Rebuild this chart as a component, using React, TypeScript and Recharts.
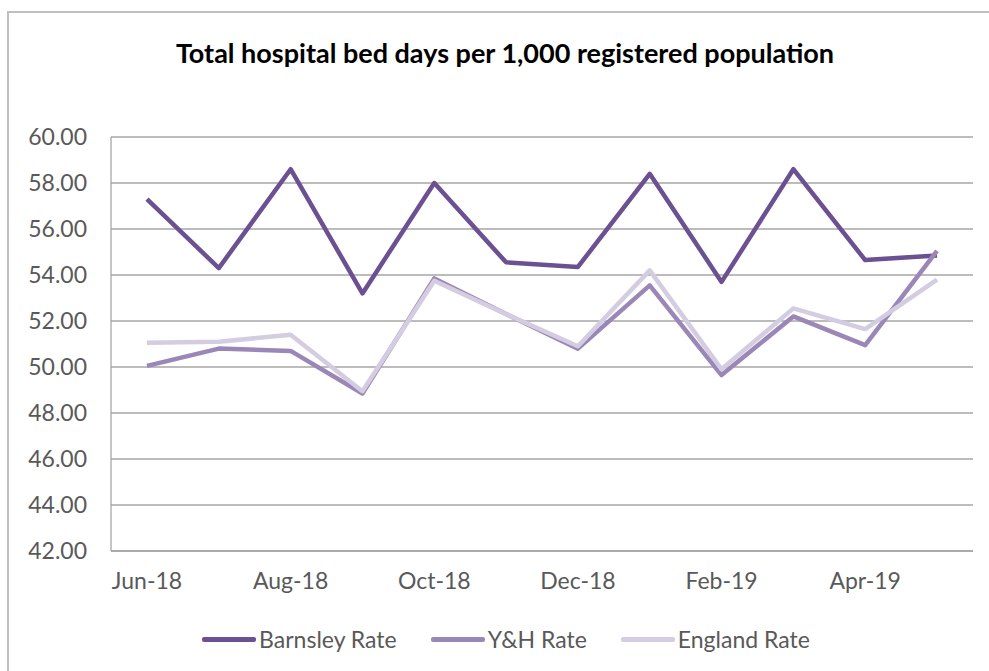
import { CartesianGrid, Line, LineChart, XAxis, YAxis } from "recharts";

const months = ["Jun-18", "Jul-18", "Aug-18", "Sep-18", "Oct-18", "Nov-18", "Dec-18", "Jan-19", "Feb-19", "Mar-19", "Apr-19", "May-19"];
const barnsley = [57.3, 54.3, 58.6, 53.2, 58.0, 54.55, 54.35, 58.4, 53.7, 58.6, 54.65, 54.85];
const yh = [50.05, 50.8, 50.7, 48.85, 53.85, 52.3, 50.8, 53.55, 49.65, 52.2, 50.95, 55.05];
const england = [51.05, 51.1, 51.4, 48.95, 53.75, 52.3, 50.9, 54.2, 49.9, 52.55, 51.65, 53.8];
const yTicks = [42, 44, 46, 48, 50, 52, 54, 56, 58, 60];

const series = [
  { key: "barnsley", name: "Barnsley Rate", color: "#6b5192" },
  { key: "yh", name: "Y&H Rate", color: "#9a87b7" },
  { key: "england", name: "England Rate", color: "#d4cce0" },
];

const data = months.map((month, i) => ({ month, barnsley: barnsley[i], yh: yh[i], england: england[i] }));

const font = "Lato, 'Open Sans', sans-serif";
const grey = "#595959";

export default function App() {
  return (
    <div style={{ position: "fixed", left: 0, top: 0, width: 989, height: 671, overflow: "hidden", background: "#fff", fontFamily: font }}>
      <div style={{ position: "absolute", left: 7, top: 11, right: 0, bottom: 0, borderTop: "2px solid #bfbfbf", borderLeft: "2px solid #bfbfbf" }} />
      <div style={{ position: "absolute", left: 0, top: 39, width: 1010, textAlign: "center", fontSize: 27, lineHeight: "27px", fontWeight: 700, color: "#000" }}>
        Total hospital bed days per 1,000 registered population
      </div>
      <div style={{ position: "absolute", left: 0, top: 0 }}>
        <LineChart width={989} height={671} data={data} margin={{ top: 137, right: 16, bottom: 80, left: 0 }}>
          <CartesianGrid vertical={false} stroke="#a6a6a6" strokeWidth={1.3} />
          <XAxis
            dataKey="month"
            interval={1}
            height={40}
            padding={{ left: 36, right: 36 }}
            tickLine={false}
            tickSize={0}
            tickMargin={22}
            axisLine={{ stroke: "#a6a6a6", strokeWidth: 1.3 }}
            tick={{ fill: grey, fontSize: 23, fontFamily: font }}
          />
          <YAxis
            domain={[42, 60]}
            ticks={yTicks}
            width={111}
            tickLine={false}
            tickSize={0}
            tickMargin={24}
            axisLine={{ stroke: "#a6a6a6", strokeWidth: 1.3 }}
            tickFormatter={(v: number) => v.toFixed(2)}
            tick={{ fill: grey, fontSize: 23, fontFamily: font }}
          />
          {series.map((s) => (
            <Line
              key={s.key}
              dataKey={s.key}
              name={s.name}
              stroke={s.color}
              strokeWidth={4.5}
              strokeLinejoin="round"
              dot={false}
              activeDot={false}
              type="linear"
              isAnimationActive={false}
            />
          ))}
        </LineChart>
      </div>
      <div style={{ position: "absolute", left: 0, top: 628, width: 1012, display: "flex", justifyContent: "center", alignItems: "center", fontSize: 23, lineHeight: "23px", color: grey }}>
        {series.map((s) => (
          <div key={s.key} style={{ display: "flex", alignItems: "center", margin: "0 17px" }}>
            <div style={{ width: 54, height: 5, background: s.color, borderRadius: 2, marginRight: 3 }} />
            <span>{s.name}</span>
          </div>
        ))}
      </div>
    </div>
  );
}
